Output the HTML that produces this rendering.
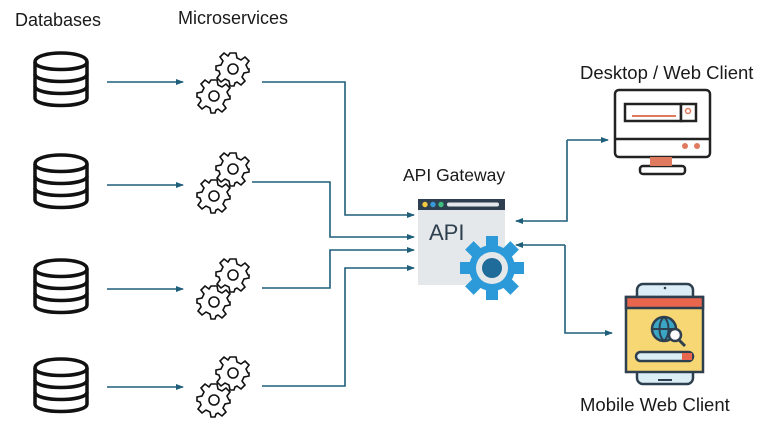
<!DOCTYPE html>
<html><head><meta charset="utf-8"><style>
body{margin:0;width:766px;height:426px;background:#fff;overflow:hidden}
svg{display:block}
text{font-family:"Liberation Sans",sans-serif;font-size:18px;fill:#1a1a1a}
</style></head><body>
<svg width="766" height="426" viewBox="0 0 766 426">
<defs>
<marker id="a" markerWidth="8" markerHeight="8" refX="7" refY="4" orient="auto" markerUnits="userSpaceOnUse"><path d="M0,1 L8,4 L0,7z" fill="#1f5f7a"/></marker>
<g id="db" fill="none" stroke="#111" stroke-width="3.5">
<path d="M-26,-16 C-26,-28 26,-28 26,-16 L26,20 C26,30 -26,30 -26,20 Z"/>
<path d="M-26,-16 C-26,-6 26,-6 26,-16"/>
<path d="M-26,-4 C-26,6 26,6 26,-4"/>
<path d="M-26,8 C-26,18 26,18 26,8"/>
</g>
<g id="gr" fill="#fff" stroke="#111" stroke-width="1.6">
<path d="M-3,-16 L3,-16 L4,-11 L8,-9 L12,-12 L16,-8 L13,-4 L15,0 L16,0 L16,3 L11,4 L9,8 L12,12 L8,16 L4,13 L2,14 L1,17 L-3,17 L-4,12 L-8,10 L-12,13 L-16,9 L-13,5 L-14,2 L-17,1 L-17,-3 L-12,-4 L-10,-8 L-13,-12 L-9,-16 L-5,-13 Z"/>
<circle r="5"/>
</g>
<g id="gs"><use href="#gr" x="33" y="-13"/><use href="#gr" x="14" y="14"/></g>
</defs>
<text x="15" y="26">Databases</text>
<text x="178" y="24">Microservices</text>
<text x="403" y="181" style="font-size:17.5px">API Gateway</text>
<text x="580" y="79" style="font-size:18.5px">Desktop / Web Client</text>
<text x="580" y="411" style="font-size:18.5px">Mobile Web Client</text>

<use href="#db" x="61" y="78"/><use href="#db" x="61" y="180"/><use href="#db" x="61" y="285"/><use href="#db" x="61" y="384"/>
<use href="#gs" x="200" y="82"/><use href="#gs" x="200" y="182"/><use href="#gs" x="200" y="288"/><use href="#gs" x="200" y="386"/>

<g stroke="#1f5f7a" stroke-width="1.6" fill="none" marker-end="url(#a)">
<path d="M107,82 H183"/><path d="M107,185 H183"/><path d="M107,289 H183"/><path d="M107,387 H183"/>
<path d="M262,82 H345 V215 H414"/>
<path d="M252,182 H330 V237 H414"/>
<path d="M262,288 H330 V250 H414"/>
<path d="M262,386 H345 V268 H414"/>
<path d="M567,140 H608"/>
<path d="M567,140 V221 H516"/>
<path d="M565,245 H516"/>
<path d="M565,245 V333 H612"/>
</g>

<!-- gateway -->
<rect x="418" y="199" width="87" height="86" fill="#e4e8ea"/>
<rect x="418" y="199" width="87" height="11" fill="#2e3f4f"/>
<circle cx="425" cy="204.5" r="2.7" fill="#f5c842"/><circle cx="433" cy="204.5" r="2.7" fill="#3a9ad9"/><circle cx="441" cy="204.5" r="2.7" fill="#3fbf7f"/>
<rect x="447" y="202.5" width="52" height="4" rx="2" fill="#e4e8ea"/>
<text x="429" y="240" style="font-size:22px;fill:#2e3f4f">API</text>
<g transform="translate(492,268)">
<g fill="#2c9ad8">
<circle r="23"/>
<rect x="-6" y="-32" width="12" height="64"/><rect x="-32" y="-6" width="64" height="12"/>
<rect x="-6" y="-32" width="12" height="64" transform="rotate(45)"/><rect x="-6" y="-32" width="12" height="64" transform="rotate(-45)"/>
</g>
<circle r="16" fill="#e4e8ea"/><circle r="10" fill="#1f6b9a"/>
</g>

<!-- desktop -->
<g stroke="#222" stroke-width="2.5" fill="#fff">
<rect x="615" y="90" width="95" height="67" rx="4"/>
<line x1="615" y1="139" x2="710" y2="139"/>
<rect x="625" y="104" width="56" height="17"/><rect x="681" y="104" width="15" height="17"/>
<rect x="640" y="166" width="45" height="8" rx="3"/>
</g>
<rect x="650" y="157" width="22" height="9" fill="#e07a5f"/>
<line x1="632" y1="116" x2="676" y2="116" stroke="#e07a5f" stroke-width="2"/>
<circle cx="688" cy="111" r="2.5" fill="none" stroke="#e07a5f" stroke-width="1.5"/>
<circle cx="685" cy="146" r="3" fill="#e07a5f"/><circle cx="697" cy="146" r="3" fill="#e07a5f"/>

<!-- mobile -->
<g stroke="#2e3f4f" stroke-width="2.5">
<rect x="637" y="284" width="56" height="100" rx="6" fill="#dceef5"/>
<rect x="626" y="297" width="77" height="75" fill="#f7d774"/>
<rect x="626" y="297" width="77" height="11" fill="#e8664e"/>
<rect x="636" y="352" width="57" height="9" rx="4.5" fill="#dceef5"/>
</g>
<rect x="682" y="353" width="10" height="7" fill="#e8664e"/>
<circle cx="665" cy="288" r="1.3" fill="#2e3f4f"/>
<line x1="658" y1="380" x2="672" y2="380" stroke="#2e3f4f" stroke-width="2"/>
<circle cx="664" cy="329" r="12" fill="#3aa6c4" stroke="#2e3f4f" stroke-width="2.5"/>
<path d="M652,329 H676 M664,317 C658,322 658,336 664,341 M664,317 C670,322 670,336 664,341" stroke="#2e3f4f" stroke-width="2" fill="none"/>
<circle cx="675" cy="335" r="6" fill="#fff" stroke="#2e3f4f" stroke-width="2.5"/>
<line x1="679" y1="340" x2="685" y2="346" stroke="#2e3f4f" stroke-width="3"/>
</svg>
</body></html>
